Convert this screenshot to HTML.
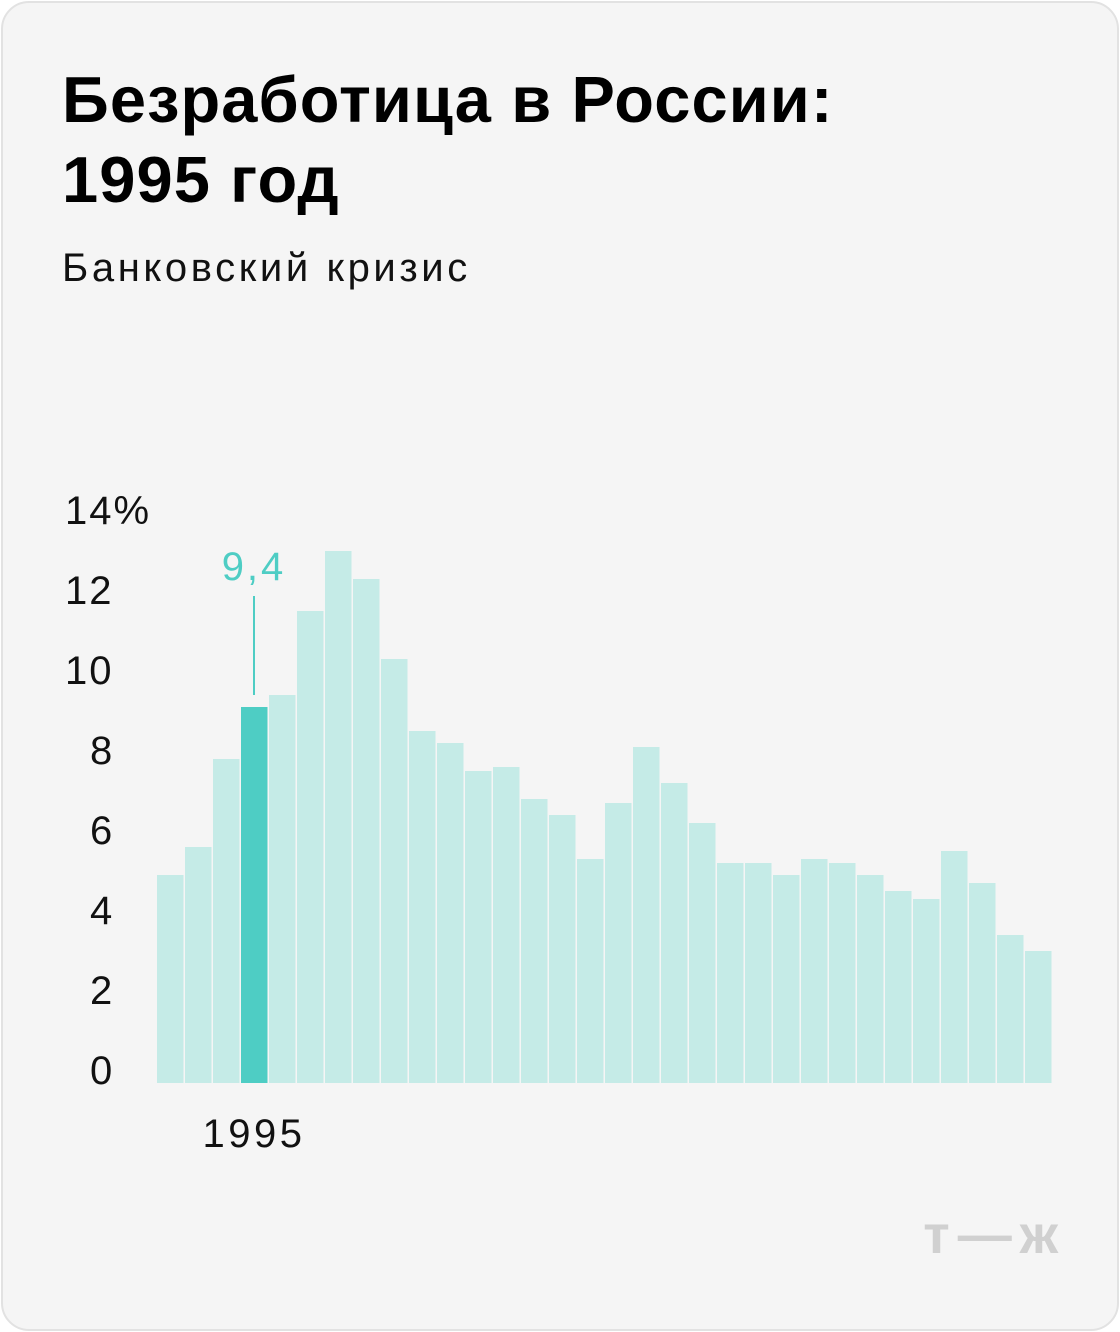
<!DOCTYPE html>
<html><head><meta charset="utf-8"><style>
body{margin:0;width:1120px;height:1332px;background:#fff;font-family:"Liberation Sans",sans-serif;}
.card{position:absolute;left:1px;top:1px;width:1114px;height:1326px;border:2px solid #e2e2e2;border-radius:28px;background:#f5f5f5;}
h1{position:absolute;left:62px;top:60px;margin:0;font-size:65px;line-height:80px;font-weight:bold;color:#000;letter-spacing:1.1px}
.sub{position:absolute;left:62px;top:246px;font-size:40px;color:#111;letter-spacing:3.6px}
svg{position:absolute;left:0;top:0}
</style></head><body>
<div class="card"></div>
<h1>Безработица в России:<br>1995 год</h1>
<div class="sub">Банковский кризис</div>
<svg id="chart" width="1120" height="1332"></svg>
<script>
const years=[1992,1993,1994,1995,1996,1997,1998,1999,2000,2001,2002,2003,2004,2005,2006,2007,2008,2009,2010,2011,2012,2013,2014,2015,2016,2017,2018,2019,2020,2021,2022,2023];
const values=[5.2,5.9,8.1,9.4,9.7,11.8,13.3,12.6,10.6,8.8,8.5,7.8,7.9,7.1,6.7,5.6,7.0,8.4,7.5,6.5,5.5,5.5,5.2,5.6,5.5,5.2,4.8,4.6,5.8,5.0,3.7,3.3];
const yTicks=[0,2,4,6,8,10,12,14];
const highlightYear=1995;
const highlightLabel="9,4";
const NS="http://www.w3.org/2000/svg";
const svg=document.getElementById('chart');
const x0=157,bw=28,base=1083,k=40;
const xs=i=>x0+i*bw, ys=v=>base-v*k;
function mk(t,a){const e=document.createElementNS(NS,t);for(const n in a)e.setAttribute(n,a[n]);svg.appendChild(e);return e;}
yTicks.forEach(t=>{
 const e=mk('text',{x:65,y:ys(t)+1,'font-size':40,fill:'#111','font-family':'Liberation Sans, sans-serif','letter-spacing':2});
 e.textContent=t+(t===14?'%':'');
 if(t<10)e.setAttribute('x',90);
 
 
});
values.forEach((v,i)=>{
 const hl=years[i]===highlightYear;
 const r=mk('rect',{x:xs(i),y:ys(v),width:bw-1.5,height:v*k,fill:hl?'#4ecdc4':'#c5ebe7'});
 
 
 if(hl){
  const cx=xs(i)+bw/2;
  const l=mk('line',{x1:cx-1,x2:cx-1,y1:ys(v)-12,y2:596,stroke:'#4ecdc4','stroke-width':2});
  
  
  const t=mk('text',{x:cx-1,y:580,'text-anchor':'middle','font-size':40,fill:'#4ecdc4','font-family':'Liberation Sans, sans-serif','letter-spacing':3});
  t.textContent=highlightLabel;
  
  
  const y=mk('text',{x:cx-1,y:1147,'text-anchor':'middle','font-size':40,fill:'#111','font-family':'Liberation Sans, sans-serif','letter-spacing':3.5});
  y.textContent=years[i];
  
  
 }
});
const lg=mk('text',{x:1066,y:1253,'text-anchor':'end','font-size':54,'font-weight':'bold',fill:'#d0d0d0','font-family':'Liberation Sans, sans-serif','letter-spacing':8});
lg.textContent='т—ж';


</script>
</body></html>
